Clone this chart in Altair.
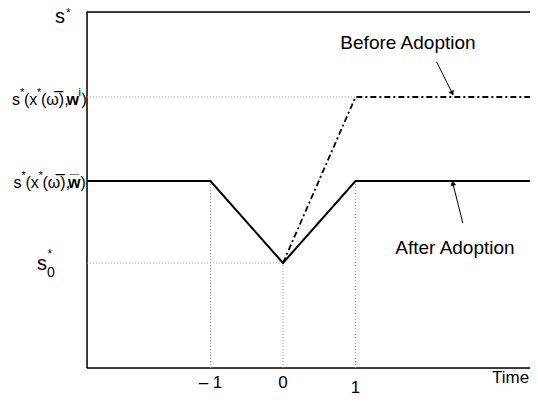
import math
import altair as alt
import pandas as pd

# ---- data values ----
x_min, x_max = -2.703, 3.407
y_min, y_max = 0.0, 3.56

s0 = 1.05      # s*_0
s_bar = 1.87   # s*(x*(w), w-bar)
s_i = 2.71     # s*(x*(w), w^i)

after_x = [x_min, -1, 0, 1, x_max]
after_y = [s_bar, s_bar, s0, s_bar, s_bar]
before_x = [0, 1, x_max]
before_y = [s0, s_i, s_i]

tick_values = [-1, 0, 1]
tick_labels = ["\u2013 1", "0", "1"]

# annotation arrows: tail -> head (data units)
before_arrow = [(2.12, 3.06), (2.33, 2.755)]
after_arrow = [(2.48, 1.45), (2.345, 1.84)]
before_text_pos = (1.724, 3.25)
after_text_pos = (2.372, 1.20)

W, H = 443, 356
PX_X = W / (x_max - x_min)
PX_Y = H / (y_max - y_min)

xs = alt.Scale(domain=[x_min, x_max], nice=False, zero=False)
ys = alt.Scale(domain=[y_min, y_max], nice=False, zero=False)


def X(f="x"):
    return alt.X(f"{f}:Q", scale=xs, axis=None)


def Y(f="y"):
    return alt.Y(f"{f}:Q", scale=ys, axis=None)


layers = []

# frame (left, top, bottom)
frame = pd.DataFrame({
    "x": [x_min, x_min, x_min],
    "x2": [x_min, x_max, x_max],
    "y": [y_min, y_max, y_min],
    "y2": [y_max, y_max, y_min],
})
layers.append(alt.Chart(frame).mark_rule(color="black", strokeWidth=1.5).encode(
    x=X(), x2="x2:Q", y=Y(), y2="y2:Q"))

# dotted guides
guides = pd.DataFrame({
    "x": [x_min, x_min, -1, 0, 1],
    "x2": [1, 0, -1, 0, 1],
    "y": [s_i, s0, y_min, y_min, y_min],
    "y2": [s_i, s0, s_bar, s0, s_bar],
})
layers.append(alt.Chart(guides).mark_rule(color="#999999", strokeWidth=1, strokeDash=[1, 2]).encode(
    x=X(), x2="x2:Q", y=Y(), y2="y2:Q"))

# main lines
after_df = pd.DataFrame({"x": after_x, "y": after_y, "i": range(len(after_x))})
before_df = pd.DataFrame({"x": before_x, "y": before_y, "i": range(len(before_x))})
layers.append(alt.Chart(before_df).mark_line(color="black", strokeWidth=1.8, strokeDash=[6, 3, 2, 3]).encode(
    x=X(), y=Y(), order="i:O"))
layers.append(alt.Chart(after_df).mark_line(color="black", strokeWidth=2).encode(
    x=X(), y=Y(), order="i:O"))

# arrows
for (tx, ty), (hx, hy) in [before_arrow, after_arrow]:
    seg = pd.DataFrame({"x": [tx], "y": [ty], "x2": [hx], "y2": [hy]})
    layers.append(alt.Chart(seg).mark_rule(color="black", strokeWidth=1).encode(
        x=X(), x2="x2:Q", y=Y(), y2="y2:Q"))
    dxp = (hx - tx) * PX_X
    dyp = -(hy - ty) * PX_Y
    ang = math.degrees(math.atan2(dxp, -dyp)) % 360
    head = pd.DataFrame({"x": [hx], "y": [hy]})
    layers.append(alt.Chart(head).mark_point(shape="triangle", filled=True, color="black",
                                             size=32, angle=ang, opacity=1).encode(x=X(), y=Y()))

# annotation texts
for txt, (ax, ay) in [("Before Adoption", before_text_pos), ("After Adoption", after_text_pos)]:
    layers.append(alt.Chart(pd.DataFrame({"x": [ax], "y": [ay]})).mark_text(
        text=txt, fontSize=19, font="Liberation Sans", align="center", baseline="middle", color="black"
    ).encode(x=X(), y=Y()))

# x tick labels
ticks = pd.DataFrame({"x": tick_values, "y": [y_min] * 3, "t": tick_labels})
layers.append(alt.Chart(ticks[ticks.x != 1]).mark_text(
    fontSize=17, font="Liberation Sans", align="center", baseline="middle", dy=15, color="black"
).encode(x=X(), y=Y(), text="t:N"))
layers.append(alt.Chart(ticks[ticks.x == 1]).mark_text(
    fontSize=17, font="Liberation Sans", align="center", baseline="middle", dy=20, color="black"
).encode(x=X(), y=Y(), text="t:N"))
layers.append(alt.Chart(pd.DataFrame({"x": [x_min], "y": [y_min]})).mark_text(
    text="Time", fontSize=17, font="Liberation Sans", align="left", baseline="middle",
    dx=405, dy=10, color="black").encode(x=X(), y=Y()))

# y labels built from pieces: (text, level, dx from left axis, dy, size, weight)
levels = {"top": y_max, "hi": s_i, "bar": s_bar, "s0": s0}
pieces = [
    ("s", "top", -32, 11, 20, "normal"),
    ("*", "top", -21, 5, 12, "normal"),
    # s*(x*(w),w^i)
    ("s", "hi", -75, 8, 16, "normal"),
    ("*", "hi", -67, -1, 11, "normal"),
    ("(x", "hi", -63, 8, 16, "normal"),
    ("*", "hi", -50, -1, 11, "normal"),
    ("(\u03c9\u0305),", "hi", -46, 8, 16, "normal"),
    ("w", "hi", -20.5, 8, 16, "bold"),
    ("i", "hi", -8.5, -1, 11, "normal"),
    (")", "hi", -5.5, 8, 16, "normal"),
    # s*(x*(w),w-bar)
    ("s", "bar", -73.5, 7, 16, "normal"),
    ("*", "bar", -65.5, -2, 11, "normal"),
    ("(x", "bar", -61.5, 7, 16, "normal"),
    ("*", "bar", -48.5, -2, 11, "normal"),
    ("(\u03c9\u0305),", "bar", -44.5, 7, 16, "normal"),
    ("w\u0305", "bar", -19, 7, 16, "bold"),
    (")", "bar", -6.5, 7, 16, "normal"),
    # s*_0
    ("s", "s0", -50, 7, 20, "normal"),
    ("0", "s0", -40, 14, 14, "normal"),
    ("*", "s0", -39.5, -5, 12, "normal"),
]
for txt, lev, dx, dy, size, weight in pieces:
    layers.append(alt.Chart(pd.DataFrame({"x": [x_min], "y": [levels[lev]]})).mark_text(
        text=txt, fontSize=size, fontWeight=weight, font="Liberation Sans", align="left",
        baseline="alphabetic", dx=dx, dy=dy, color="black"
    ).encode(x=X(), y=Y()))

chart = alt.layer(*layers).properties(
    width=W, height=H,
    autosize=alt.AutoSizeParams(type="none"),
    padding={"left": 79, "top": 4, "right": 0, "bottom": 28},
).configure_view(stroke=None).configure(background="white")

chart.save("out.html", embed_options={"renderer": "svg", "actions": False})
